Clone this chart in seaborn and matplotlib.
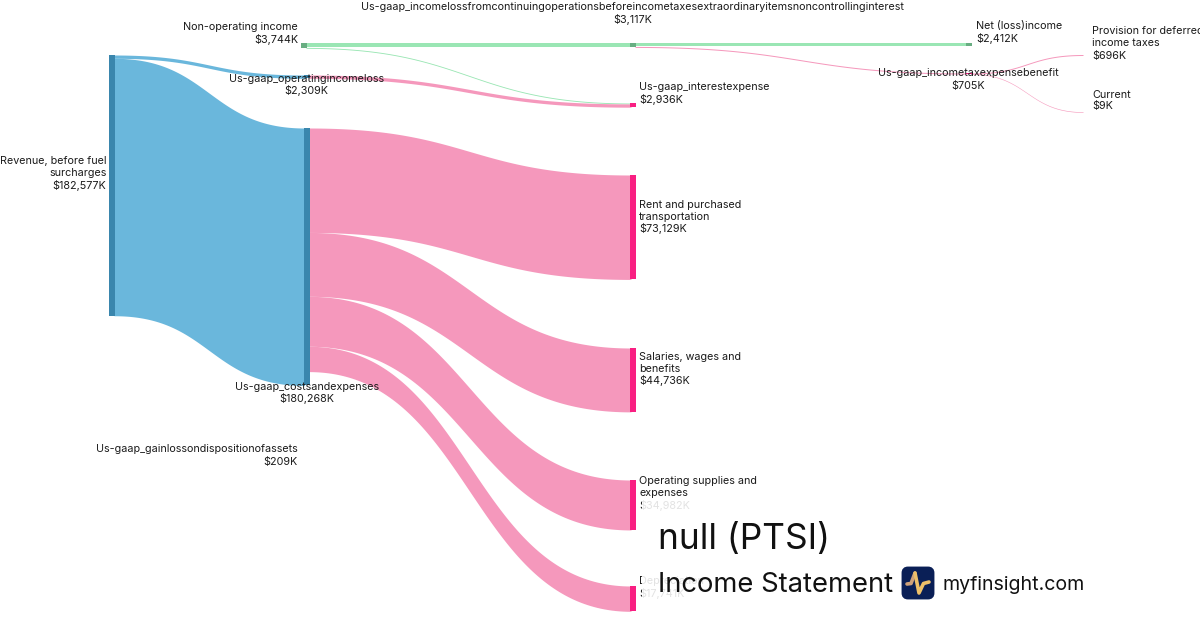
import numpy as np
import pandas as pd
import seaborn as sns
import matplotlib.pyplot as plt
from matplotlib.patches import FancyBboxPatch, Rectangle

# Node data (values in $K)
node_names = [
    "Revenue, before fuel\nsurcharges",
    "Non-operating income",
    "Us-gaap_operatingincomeloss",
    "Us-gaap_costsandexpenses",
    "Us-gaap_gainlossondispositionofassets",
    "Us-gaap_incomelossfromcontinuingoperationsbeforeincometaxesextraordinaryitemsnoncontrollinginterest",
    "Us-gaap_interestexpense",
    "Rent and purchased\ntransportation",
    "Salaries, wages and\nbenefits",
    "Operating supplies and\nexpenses",
    "Depreciation",
    "Net (loss)income",
    "Us-gaap_incometaxexpensebenefit",
    "Provision for deferred\nincome taxes",
    "Current",
]
node_values = [182577, 3744, 2309, 180268, 209, 3117, 2936, 73129, 44736, 34982, 17741, 2412, 705, 696, 9]

# Flows between nodes, by index into node_names
link_source = [0, 0, 1, 1, 2, 3, 3, 3, 3, 5, 5, 12, 12]
link_target = [2, 3, 5, 6, 6, 7, 8, 9, 10, 11, 12, 13, 14]
link_values = [2309, 180268, 3117, 627, 2309, 73129, 44736, 34982, 17741, 2412, 705, 696, 9]
link_kind = ["blue", "blue", "green", "green", "pink", "pink", "pink", "pink", "pink", "green", "pink", "pink", "pink"]

# Layout in pixels, one entry per node
node_left = [109, 301, 303.5, 303.5, 303.5, 630, 630, 630, 630, 630, 630, 966, 966, 1082, 1082]
node_top = [55, 43, 75, 128, 450, 43, 103, 175, 348, 480, 586, 43, 73, 54.5, 112]
node_kind = ["blue", "green", "blue", "blue", "blue", "green", "pink", "pink", "pink", "pink", "pink", "green", "pink", "pink", "pink"]
text_x = [106.5, 298, 306.5, 307, 298, 632.5, 639, 639, 639, 639, 639, 976, 968, 1092, 1092]
text_y = [161.5, 27.5, 78.5, 386.5, 449.5, 7.5, 87.5, 204.5, 356.5, 481.5, 581.5, 26.5, 73.5, 31.5, 94.5]
text_ha = ["right", "right", "center", "center", "right", "center", "left", "left", "left", "left", "left", "left", "center", "left", "left"]

node_colors = {"blue": "#3a86ad", "pink": "#f91f82", "green": "#68ae82"}
link_colors = {"blue": "#6ab7dc", "pink": "#f598bc", "green": "#9ae6b4"}

PX_PER_K = 0.001428
NODE_W = 6
MIN_LINK = 0.6

sns.set_theme(style="white")
plt.rcParams["font.family"] = ["Inter", "DejaVu Sans"]

fig = plt.figure(figsize=(12, 6.3), dpi=100)
ax = fig.add_axes([0, 0, 1, 1])


def link_curve(x0, y0, x1, y1):
    # same bezier as d3-sankey: control points at the horizontal midpoint
    t = np.linspace(0, 1, 120)
    xm = (x0 + x1) / 2
    x = (1 - t) ** 3 * x0 + 3 * (1 - t) ** 2 * t * xm + 3 * (1 - t) * t ** 2 * xm + t ** 3 * x1
    y = (1 - t) ** 3 * y0 + 3 * (1 - t) ** 2 * t * y0 + 3 * (1 - t) * t ** 2 * y1 + t ** 3 * y1
    return x, y


# Links, stacked from the top of each node
out_used = [0.0] * len(node_names)
in_used = [0.0] * len(node_names)
for src, tgt, val, kind in zip(link_source, link_target, link_values, link_kind):
    w = val * PX_PER_K
    y0 = node_top[src] + out_used[src]
    y1 = node_top[tgt] + in_used[tgt]
    out_used[src] += w
    in_used[tgt] += w
    # start a little inside the node so no hairline shows between them
    x, y = link_curve(node_left[src] + NODE_W - 1, y0 + w / 2, node_left[tgt] + 1, y1 + w / 2)
    draw_w = max(w, MIN_LINK)
    ax.fill_between(x, y - draw_w / 2, y + draw_w / 2, color=link_colors[kind], linewidth=0, zorder=1)

# Nodes
nodes = pd.DataFrame({"cx": np.array(node_left) + NODE_W / 2,
                      "h": np.array(node_values) * PX_PER_K,
                      "top": node_top,
                      "kind": node_kind})
for _, row in nodes.iterrows():
    sns.barplot(x=[row["cx"]], y=[row["h"]], bottom=row["top"], native_scale=True, orient="x",
                width=NODE_W, color=node_colors[row["kind"]], saturation=1, linewidth=0, ax=ax, zorder=2)

ax.set_xlim(0, 1200)
ax.set_ylim(630, 0)
ax.axis("off")

# Node labels
for name, val, tx, ty, ha in zip(node_names, node_values, text_x, text_y, text_ha):
    lines = name.split("\n") + [f"${val:,}K"]
    for i, line in enumerate(lines):
        ax.text(tx, ty + i * 12, line, ha=ha, va="center", fontsize=7.75, color="#1a1a1a", zorder=3)

# Translucent backing of the title block
ax.add_patch(Rectangle((642, 499), 460, 112, facecolor="white", alpha=0.88, linewidth=0, zorder=4))
ax.text(658, 540, "null (PTSI)", fontsize=25.4, color="#111111", va="center", ha="left", zorder=5)
ax.text(658, 585, "Income Statement", fontsize=19.7, color="#111111", va="center", ha="left", zorder=5)
ax.text(942, 584.5, "myfinsight.com", fontsize=14.1, color="#111111", va="center", ha="left", zorder=5)

# Logo
ax.add_patch(FancyBboxPatch((904, 569), 28, 28, boxstyle="round,pad=0,rounding_size=4", mutation_aspect=1,
                            facecolor="#0a1f56", edgecolor="#0a1f56", linewidth=3.5, zorder=5))
ax.plot([907, 911, 915], [584, 583.5, 573], color="#cfa27a", linewidth=2.6, solid_capstyle="round", solid_joinstyle="round", zorder=6)
ax.plot([915, 919, 923.5, 929], [573, 593, 583.5, 582], color="#eec069", linewidth=2.6, solid_capstyle="round", solid_joinstyle="round", zorder=6)

plt.savefig("out.png", dpi=100)
